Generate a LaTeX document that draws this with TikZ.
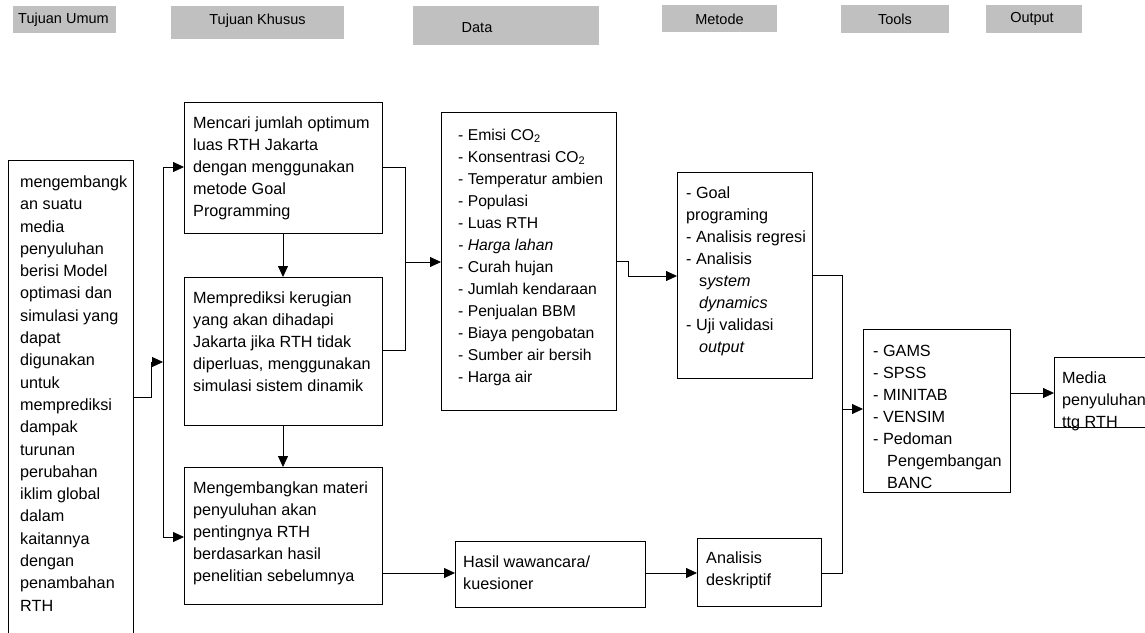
\documentclass[tikz,border=0pt]{standalone}
\usepackage{fontspec}
\setmainfont{Liberation Sans}
\usetikzlibrary{arrows.meta}
\definecolor{hdrgray}{HTML}{C0C0C0}
\newcommand{\bodyfont}{\fontsize{16.2}{22}\selectfont}
\newcommand{\hdrfont}{\fontsize{14.5}{17}\selectfont}
\newcommand{\bx}[6][box]{\node[#1, minimum width=#5pt-#3pt, minimum height=#6pt-#4pt, anchor=north west] (#2) at (#3,#4) {};}
\tikzset{
  box/.style={draw=black, line width=0.8pt, inner sep=0pt, outer sep=0pt, rectangle},
  hdr/.style={fill=hdrgray, draw=none, inner sep=0pt, outer sep=0pt, rectangle},
  txt/.style={anchor=north west, align=left, inner sep=0pt, font=\bodyfont},
  htxt/.style={inner sep=0pt, font=\hdrfont},
  ln/.style={line width=0.8pt, draw=black},
  arr/.style={line width=0.8pt, draw=black, -{Triangle[length=11pt,width=10pt]}}
}
\begin{document}
\begin{tikzpicture}[x=1pt,y=-1pt]
\useasboundingbox (0,0) rectangle (1145,632);
% headers
\bx[hdr]{h1}{13}{6}{116}{33}
\bx[hdr]{h2}{171}{6}{344}{39}
\bx[hdr]{h3}{413}{6}{599}{45}
\bx[hdr]{h4}{662}{5}{777}{32}
\bx[hdr]{h5}{841}{5}{949}{33}
\bx[hdr]{h6}{986}{5}{1082}{33}
\node[htxt] (h1t) at (63.5,20) {Tujuan Umum};
\node[htxt] (h2t) at (257.5,21) {Tujuan Khusus};
\node[htxt] (h3t) at (477,28) {Data};
\node[htxt] (h4t) at (719.5,19) {Metode};
\node[htxt] (h5t) at (895,19) {Tools};
\node[htxt] (h6t) at (1032,19) {Output};
% boxes
\bx{umum}{8}{160}{133}{660}
\bx{tk1}{184}{102}{382}{233}
\bx{tk2}{184}{277}{382}{425}
\bx{tk3}{184}{467}{382}{604}
\bx{data}{441}{112}{616}{410}
\bx{metode}{677}{172}{812}{378}
\bx{tools}{863}{329}{1010}{492}
\bx{output}{1054}{357}{1170}{427}
\bx{hasil}{455}{541}{645}{607}
\bx{deskr}{697}{538}{821}{606}
% texts (top = first baseline - 11.5)
\node[txt, font=\fontsize{16.2}{22.3}\selectfont] (umumt) at (20,175.5) {mengembangk\\an suatu\\media\\penyuluhan\\berisi Model\\optimasi dan\\simulasi yang\\dapat\\digunakan\\untuk\\memprediksi\\dampak\\turunan\\perubahan\\iklim global\\dalam\\kaitannya\\dengan\\penambahan\\RTH};
\node[txt] (tk1t) at (193,116.5) {Mencari jumlah optimum\\luas RTH Jakarta\\dengan menggunakan\\metode Goal\\Programming};
\node[txt] (tk2t) at (193,291.5) {Memprediksi kerugian\\yang akan dihadapi\\Jakarta jika RTH tidak\\diperluas, menggunakan\\simulasi sistem dinamik};
\node[txt] (tk3t) at (193,481.5) {Mengembangkan materi\\penyuluhan akan\\pentingnya RTH\\berdasarkan hasil\\penelitian sebelumnya};
\node[txt, font=\fontsize{15.7}{22}\selectfont] (datat) at (458,128.5) {- Emisi CO\textsubscript{2}\\- Konsentrasi CO\textsubscript{2}\\- Temperatur ambien\\- Populasi\\- Luas RTH\\\textit{- Harga lahan}\\- Curah hujan\\- Jumlah kendaraan\\- Penjualan BBM\\- Biaya pengobatan\\- Sumber air bersih\\- Harga air};
\node[txt] (metodet) at (686,186.5) {- Goal\\programing\\- Analisis regresi\\- Analisis\\\hspace*{13pt}s\textit{ystem}\\\hspace*{13pt}\textit{dynamics}\\- Uji validasi\\\hspace*{13pt}\textit{output}};
\node[txt] (toolst) at (873,344.5) {- GAMS\\- SPSS\\- MINITAB\\- VENSIM\\- Pedoman\\\hspace*{14pt}Pengembangan\\\hspace*{14pt}BANC};
\node[txt] (outputt) at (1062,371.5) {Media\\penyuluhan\\ttg RTH};
\node[txt] (hasilt) at (463,555.5) {Hasil wawancara/\\kuesioner};
\node[txt] (deskrt) at (706,551.5) {Analisis\\deskriptif};
% connectors
\coordinate (sp) at (163,362);
\draw[arr] (umum.east |- 0,397) -- (151,397) -- (151,362) -- (sp);
\draw[arr] (sp) -- (163,167) -- (tk1.west |- 0,167);
\draw[arr] (sp) -- (163,537) -- (tk3.west |- 0,537);
\draw[arr] (tk1.south) -- (tk2.north);
\draw[arr] (tk2.south) -- (tk3.north);
\draw[ln] (tk1.east |- 0,167) -- (405,167) -- (405,350) -- (tk2.east |- 0,350);
\coordinate (jd) at (405,262);
\draw[arr] (jd) -- (data.west |- jd);
\draw[arr] (data.east |- 0,261) -- (628,261) -- (628,276) -- (metode.west |- 0,276);
\draw[ln] (metode.east |- 0,275) -- (842,275) -- (842,573) -- (deskr.east |- 0,573);
\coordinate (jt) at (842,409);
\draw[arr] (jt) -- (tools.west |- jt);
\draw[arr] (tools.east |- 0,393) -- (output.west |- 0,393);
\draw[arr] (tk3.east |- 0,573) -- (hasil.west |- 0,573);
\draw[arr] (hasil.east |- 0,573) -- (deskr.west |- 0,573);
\end{tikzpicture}
\end{document}
